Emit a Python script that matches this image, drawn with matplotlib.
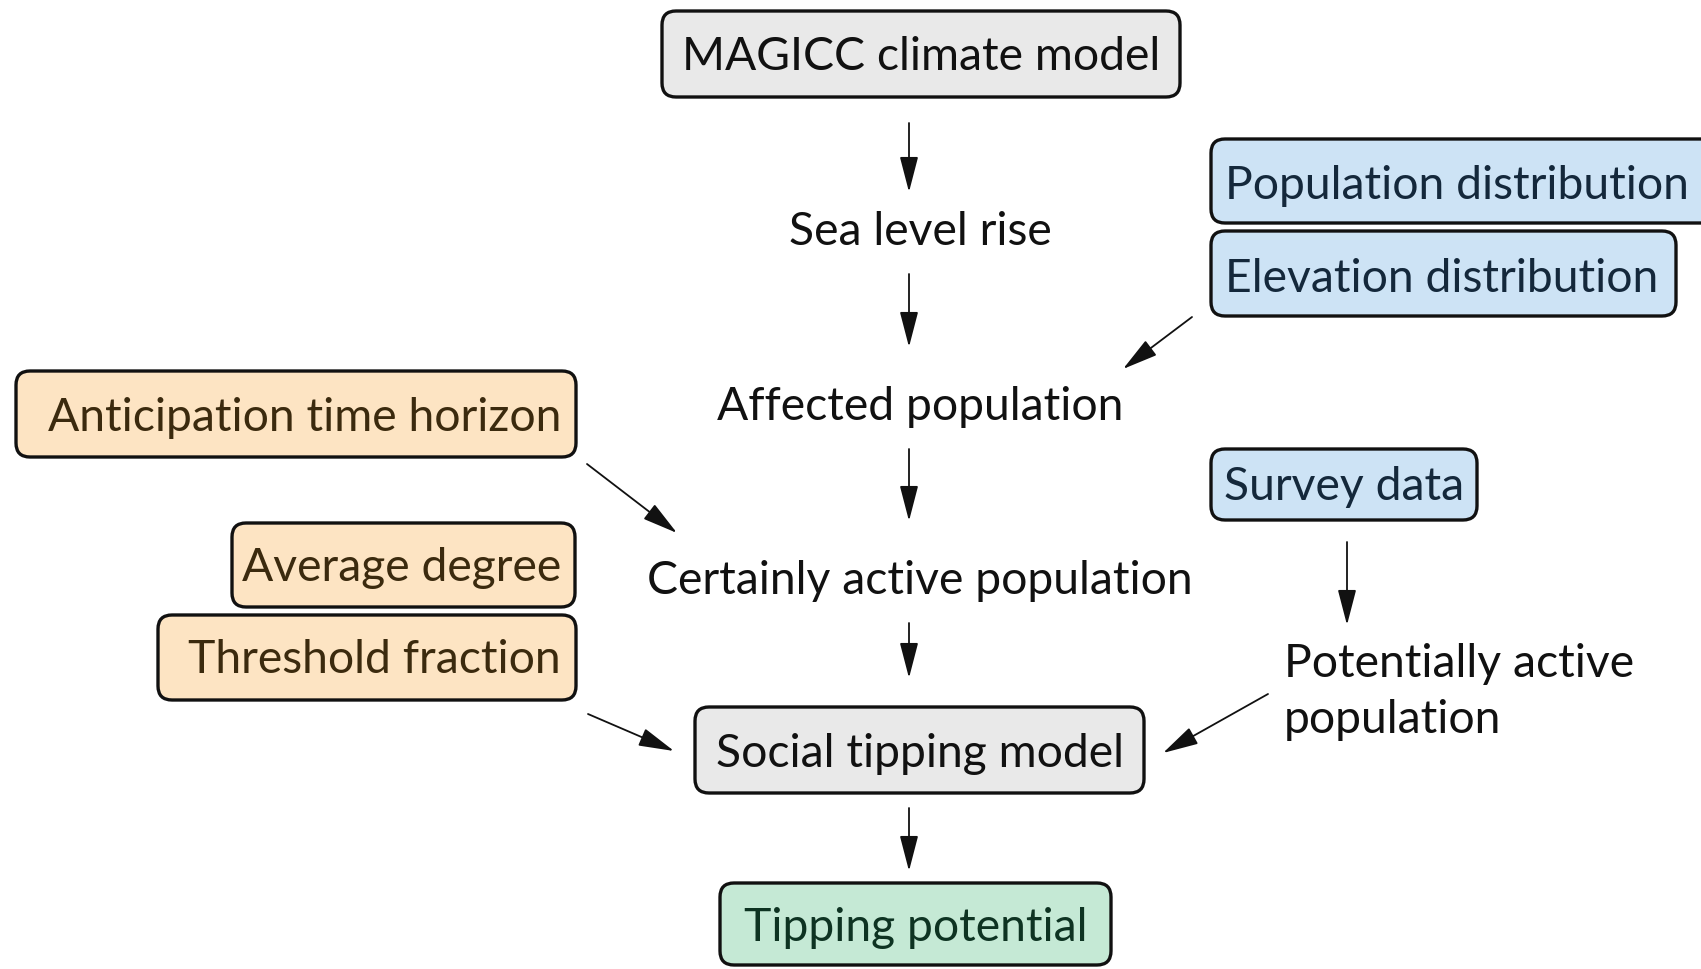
"""Flowchart: from MAGICC sea level rise to social tipping potential."""

import matplotlib.pyplot as plt
from matplotlib.patches import FancyBboxPatch, FancyArrowPatch

# node labels
main_chain = ['MAGICC climate model', 'Sea level rise', 'Affected population',
              'Certainly active population', 'Social tipping model',
              'Tipping potential']
data_inputs = ['Population distribution', 'Elevation distribution', 'Survey data']
param_inputs = ['Anticipation time horizon', 'Average degree', 'Threshold fraction']
side_node = 'Potentially active\npopulation'

GRAY = ('#e9e9e9', '#111111')
BLUE = ('#cde3f5', '#14283b')
ORANGE = ('#fde4c3', '#3b2a0e')
GREEN = ('#c5e9d5', '#0e3322')

FS = 33.3
DY = 5  # small downward nudge so text sits centred like the original
plt.rcParams['font.family'] = ['Lato', 'DejaVu Sans']

fig = plt.figure(figsize=(17.01, 9.69), dpi=100)
ax = fig.add_axes([0, 0, 1, 1])
ax.set_xlim(0, 1701)
ax.set_ylim(969, 0)
ax.axis('off')


def box(x0, y0, x1, y1, colors):
    p = FancyBboxPatch((x0, y0), x1 - x0, y1 - y0,
                       boxstyle='round,pad=0,rounding_size=14',
                       fc=colors[0], ec='#111111', lw=2.4, clip_on=False)
    ax.add_patch(p)


def label(x, y, s, color='#111111', ha='center'):
    ax.text(x, y + DY, s, fontsize=FS, color=color, ha=ha, va='center',
            linespacing=1.44)


def arrow(x0, y0, x1, y1):
    a = FancyArrowPatch((x0, y0), (x1, y1),
                        arrowstyle='-|>,head_length=1.0,head_width=0.26',
                        mutation_scale=22, lw=1.3, color='#111111',
                        shrinkA=0, shrinkB=0)
    ax.add_patch(a)


# main column
box(662, 11, 1180, 97, GRAY)
label(921, 52, main_chain[0])
label(920, 227, main_chain[1])
label(920, 402, main_chain[2])
label(920, 576, main_chain[3])
box(695, 707, 1144, 793, GRAY)
label(920, 749, main_chain[4])
box(720, 883, 1111, 965, GREEN)
label(916, 923, main_chain[5], color=GREEN[1])

for y0, y1 in [(123, 192), (274, 347), (449, 521), (623, 678), (808, 871)]:
    arrow(909, y0, 909, y1)

# data inputs (right)
box(1211, 139, 1725, 223, BLUE)
label(1225, 181, data_inputs[0], color=BLUE[1], ha='left')
box(1211, 231, 1676, 316, BLUE)
label(1225, 274, data_inputs[1], color=BLUE[1], ha='left')
box(1211, 449, 1477, 520, BLUE)
label(1224, 482, data_inputs[2], color=BLUE[1], ha='left')
label(1284, 687, side_node, ha='left')

arrow(1192, 317, 1123, 369)
arrow(1347, 542, 1347, 625)
arrow(1268, 694, 1163, 753)

# parameter inputs (left)
box(16, 371, 576, 457, ORANGE)
label(561, 413, param_inputs[0], color=ORANGE[1], ha='right')
box(232, 523, 575, 607, ORANGE)
label(561, 563, param_inputs[1], color=ORANGE[1], ha='right')
box(158, 615, 576, 700, ORANGE)
label(561, 655, param_inputs[2], color=ORANGE[1], ha='right')

arrow(587, 464, 677, 533)
arrow(588, 714, 674, 751)

fig.savefig('out.png', dpi=100)
